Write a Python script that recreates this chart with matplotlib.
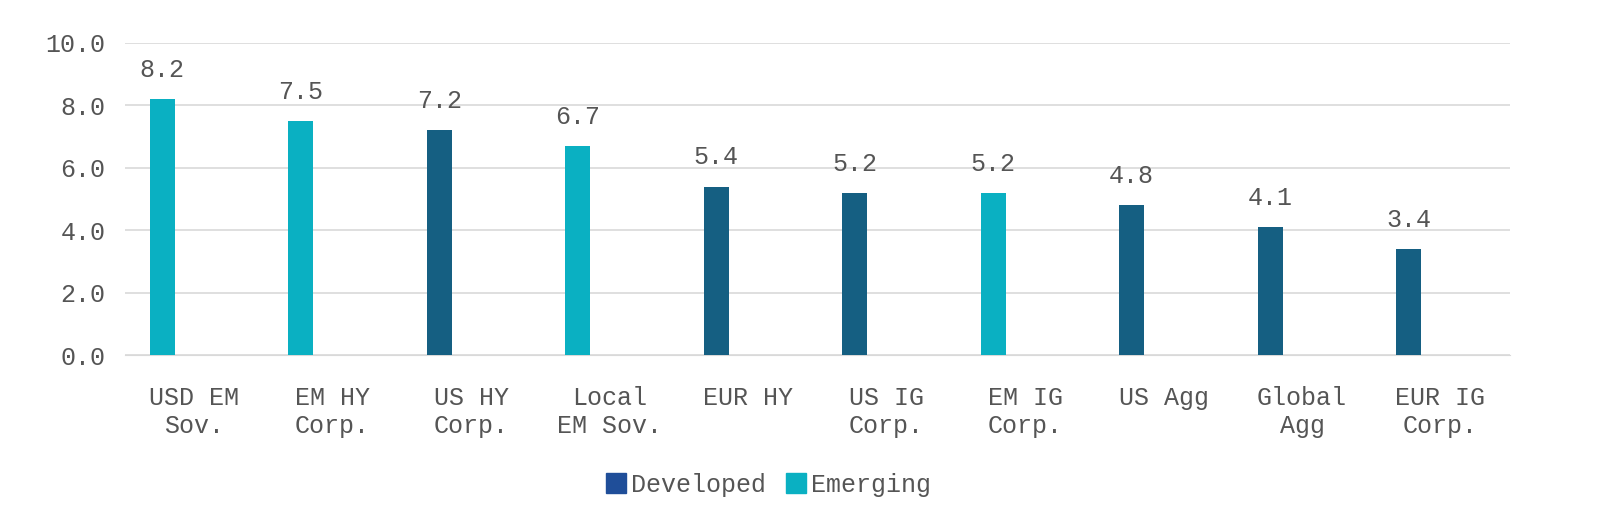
import numpy as np
import matplotlib
matplotlib.use("Agg")
import matplotlib.pyplot as plt
from matplotlib.patches import Patch

categories = ["USD EM\nSov.", "EM HY\nCorp.", "US HY\nCorp.", "Local\nEM Sov.", "EUR HY",
              "US IG\nCorp.", "EM IG\nCorp.", "US Agg", "Global\nAgg", "EUR IG\nCorp."]
values = [8.2, 7.5, 7.2, 6.7, 5.4, 5.2, 5.2, 4.8, 4.1, 3.4]
group = ["Emerging", "Emerging", "Developed", "Emerging", "Developed",
         "Developed", "Emerging", "Developed", "Developed", "Developed"]

bar_colors = {"Developed": "#155F82", "Emerging": "#0AB0C2"}
legend_colors = {"Developed": "#1F4E99", "Emerging": "#0AB0C2"}

plt.rcParams['font.family'] = ['Liberation Mono', 'DejaVu Sans Mono']
fig = plt.figure(figsize=(16.01, 5.24), dpi=100)
ax = fig.add_axes([0.078, 0.322, 0.865, 0.596])

x = np.arange(len(categories))
ax.bar(x - 0.23, values, width=0.18, color=[bar_colors[g] for g in group], zorder=3)
for xi, v in zip(x, values):
    ax.text(xi - 0.23, v + 0.55, f"{v:.1f}", ha="center", va="bottom", fontsize=18, color="#555555")

ax.set_xlim(-0.5, len(categories) - 0.5)
ax.set_ylim(0, 10)
ax.set_yticks(np.arange(0, 10.1, 2))
ax.set_yticklabels([f"{t:.1f}" for t in np.arange(0, 10.1, 2)], fontsize=18, color="#555555")
ax.set_xticks(x)
ax.set_xticklabels(categories, fontsize=18, color="#555555", linespacing=1.2)
ax.tick_params(axis="x", length=0, pad=22)
ax.tick_params(axis="y", length=0, pad=14)
ax.grid(axis="y", color="#D9D9D9", linewidth=1.2, zorder=0)
for s in ["top", "right", "left"]:
    ax.spines[s].set_visible(False)
ax.spines["bottom"].set_color("#D9D9D9")

handles = [Patch(color=legend_colors[k]) for k in ["Developed", "Emerging"]]
fig.legend(handles, ["Developed", "Emerging"], loc="center", bbox_to_anchor=(0.48, 0.075),
           ncol=2, frameon=False, fontsize=18, handlelength=0.8, handleheight=0.8,
           handletextpad=0.2, columnspacing=0.8, labelcolor="#555555")

fig.savefig("out.png", dpi=100)
